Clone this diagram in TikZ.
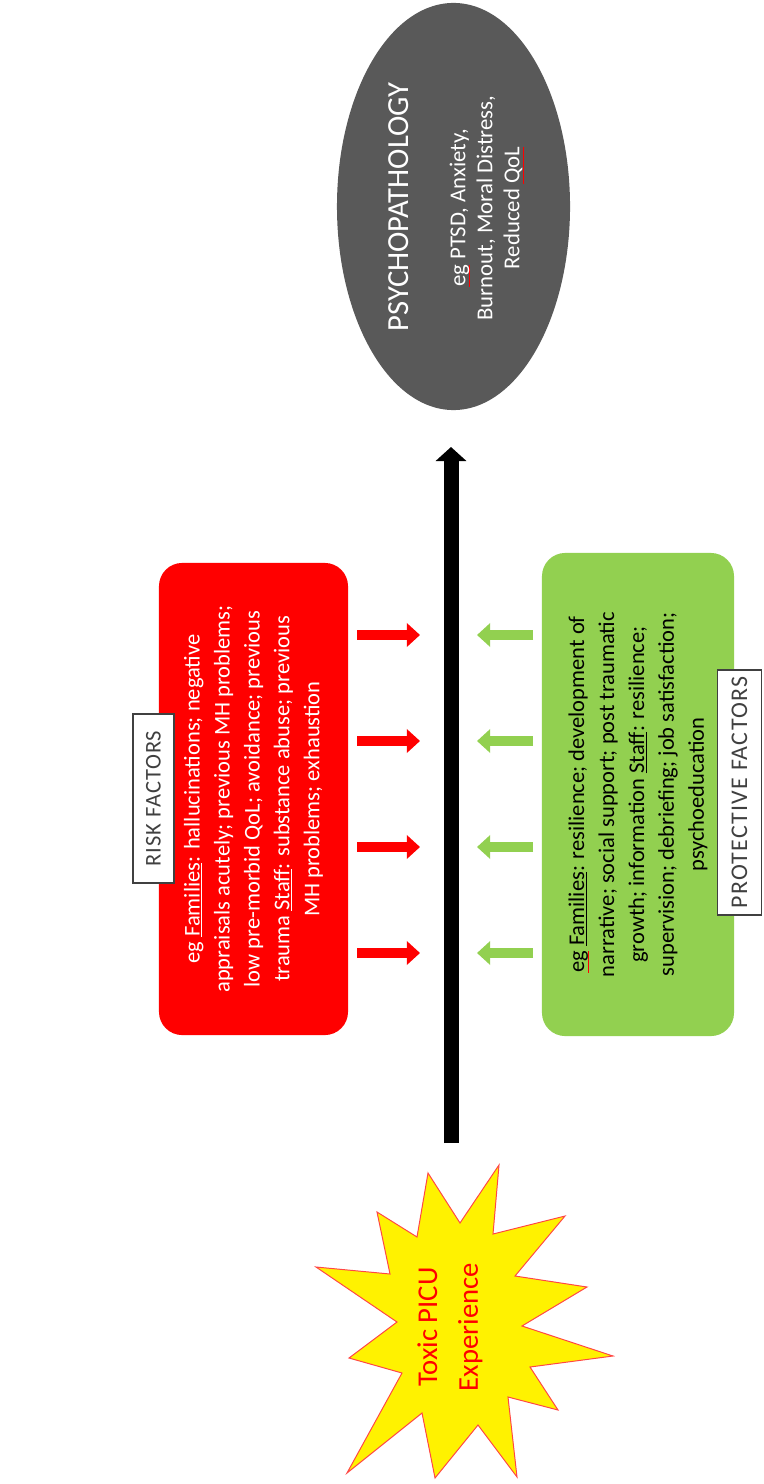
\documentclass[tikz,border=0pt]{standalone}
\usepackage{fontspec}
\setmainfont{Carlito}
\usetikzlibrary{shapes.geometric,arrows.meta}

\definecolor{riskred}{RGB}{255,0,0}
\definecolor{protgreen}{RGB}{146,208,80}
\definecolor{pathgray}{RGB}{89,89,89}
\definecolor{labelgray}{RGB}{64,64,64}
\definecolor{burstline}{RGB}{255,70,70}

\newcommand\squig[1]{\setbox0\hbox{#1}\rlap{\textcolor{red}{\rule[-3.5pt]{\wd0}{1pt}}}#1}

\begin{document}
\begin{tikzpicture}[x=0.025cm, y=-0.025cm,
    factorbox/.style={rotate=90, rounded corners=0.58cm, align=center, inner sep=0pt,
      font=\fontsize{16}{21.3}\selectfont},
    tagbox/.style={rotate=90, draw=labelgray, line width=0.9pt, fill=white, text=labelgray, inner sep=0pt},
    push/.style={line width=0.25cm, -{Triangle[length=0.33cm,width=0.58cm]}},
    burst/.style={fill=yellow, draw=burstline, line width=0.7pt, line join=miter}]
  \useasboundingbox (0,0) rectangle (763,1484);

  \node[ellipse, fill=pathgray, minimum width=5.825cm, minimum height=10.175cm, inner sep=0pt] (psycho) at (453.5,206.5) {};
  \node[rotate=90, text=white, font=\fontsize{21.8}{24}\selectfont] (psychotitle) at (399,207) {PSYCHOPATHOLOGY};
  \node[rotate=90, text=white, align=center, font=\fontsize{16.2}{19.2}\selectfont] (psychotext) at (487,208)
    {\squig{eg} PTSD, Anxiety,\\Burnout, Moral Distress,\\Reduced \squig{QoL}};

  \node[factorbox, fill=riskred, text=white, minimum width=11.8cm, minimum height=4.725cm] (risk) at (253.5,799)
    {eg \underline{Families}: hallucinations; negative\\appraisals acutely; previous MH problems;\\low pre-morbid QoL; avoidance; previous\\trauma \underline{Staff}: substance abuse; previous\\MH problems; exhaustion};
  \node[factorbox, fill=protgreen, text=black, minimum width=12.075cm, minimum height=4.8cm] (protect) at (638,794.5)
    {\squig{eg} \underline{Families}: resilience; development of\\narrative; social support; post traumatic\\growth; information \underline{Staff}: resilience;\\supervision; debriefing; job satisfaction;\\psychoeducation};

  \node[tagbox, minimum width=4.225cm, minimum height=1.025cm,
    font=\fontsize{16}{18}\selectfont\addfontfeature{LetterSpace=4}] (risktag) at (153.5,798.5) {RISK FACTORS};
  \node[tagbox, minimum width=6.125cm, minimum height=1.1cm,
    font=\fontsize{17}{19}\selectfont\addfontfeature{LetterSpace=5.5}] (protecttag) at (739.5,792.5) {PROTECTIVE FACTORS};

  \coordinate (axisfoot) at (451,1143);
  \coordinate (axishead) at (451,447);
  \draw[line width=0.375cm, -{Triangle[length=0.35cm,width=0.75cm]}] (axisfoot) -- (axishead);

  \foreach \y [count=\i] in {635,741,847,953} {
    \coordinate (riskfrom\i) at (357,\y);
    \coordinate (riskto\i) at (420,\y);
    \coordinate (protfrom\i) at (533,\y);
    \coordinate (protto\i) at (477,\y);
    \draw[push, riskred] (riskfrom\i) -- (riskto\i);
    \draw[push, protgreen] (protfrom\i) -- (protto\i);
  }

  \draw[burst] (428,1173) -- (460,1223) -- (499,1165) -- (493,1234) -- (565,1216) -- (515,1276)
    -- (587,1287) -- (522,1326) -- (613,1356) -- (530,1367) -- (558,1410) -- (508,1397)
    -- (517,1477) -- (478,1425) -- (435,1478) -- (422,1413) -- (347,1473) -- (402,1373)
    -- (349,1358) -- (397,1322) -- (316,1267) -- (390,1274) -- (377,1212) -- (417,1237) -- cycle;
  \node[rotate=90, align=center, text=riskred, font=\fontsize{20.4}{29}\selectfont] (toxic) at (450,1327)
    {Toxic PICU\\Experience};
\end{tikzpicture}
\end{document}
